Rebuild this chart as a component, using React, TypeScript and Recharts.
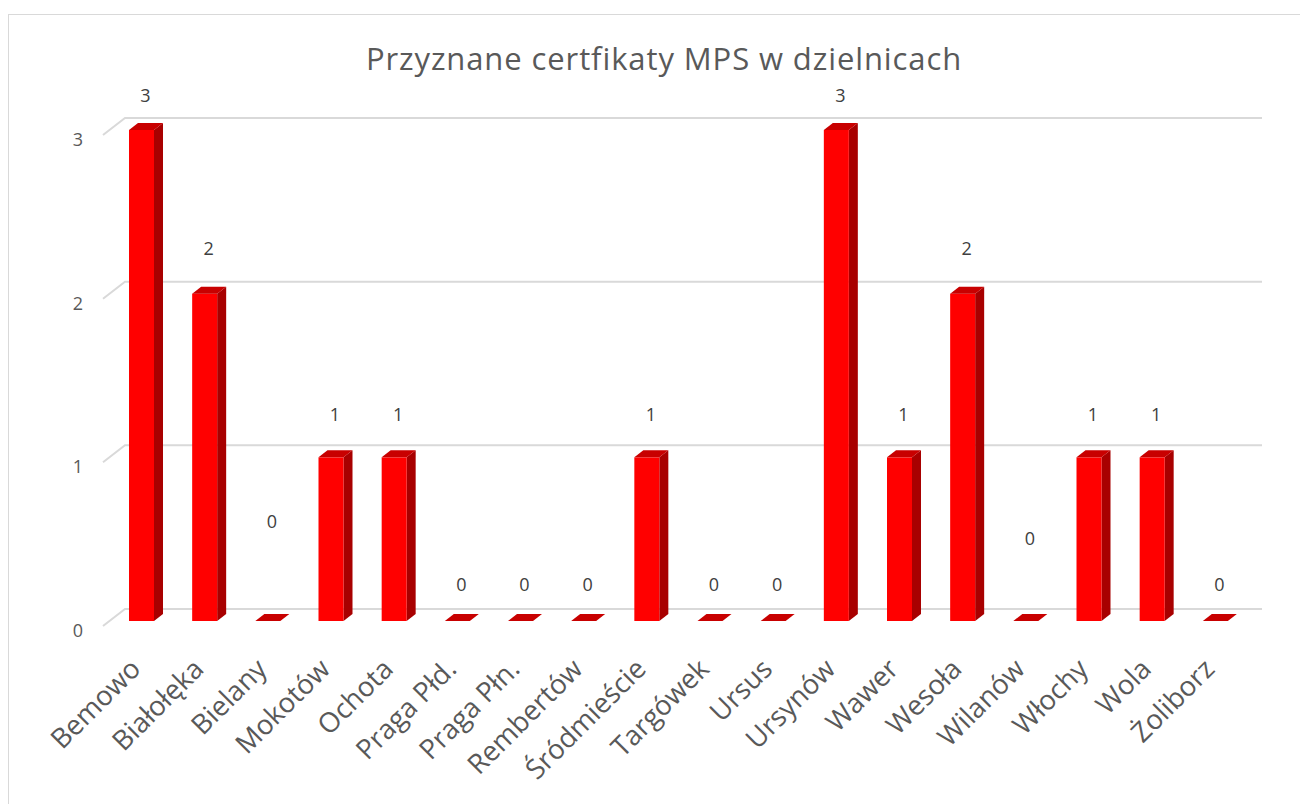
import React from "react";
import { BarChart, Bar, XAxis, YAxis, CartesianGrid, LabelList } from "recharts";

const districts = [
  "Bemowo", "Białołęka", "Bielany", "Mokotów", "Ochota", "Praga Płd.", "Praga Płn.",
  "Rembertów", "Śródmieście", "Targówek", "Ursus", "Ursynów", "Wawer", "Wesoła",
  "Wilanów", "Włochy", "Wola", "Żoliborz",
];
const certificates = [3, 2, 0, 1, 1, 0, 0, 0, 1, 0, 0, 3, 1, 2, 0, 1, 1, 0];
const yTicks = [0, 1, 2, 3];
const title = "Przyznane certfikaty MPS w dzielnicach";

const data = districts.map((name, i) => ({ name, value: certificates[i] }));

const DX = 9;
const DY = 7;
const TEXT = "#595959";
const FONT = '"Open Sans", "Noto Sans", sans-serif';

const Bar3D = (props: any) => {
  const { x, y, width, height } = props;
  const h = Math.max(0, height);
  const top = `${x},${y} ${x + DX},${y - DY} ${x + width + DX},${y - DY} ${x + width},${y}`;
  const side = `${x + width},${y} ${x + width + DX},${y - DY} ${x + width + DX},${y + h - DY} ${x + width},${y + h}`;
  return (
    <g>
      {h > 0 && <polygon points={side} fill="#A80000" />}
      {h > 0 && <rect x={x} y={y} width={width} height={h} fill="#FF0000" />}
      <polygon points={top} fill="#C80000" />
    </g>
  );
};

const gridLine = (props: any) => {
  const { x1, x2, y1, index } = props;
  const d = `M${x1 - 7},${y1 + 5} L${x1 + 15},${y1 - 12} L${x2 + 15},${y1 - 12}`;
  return <path key={`g-${index}`} d={d} fill="none" stroke="#D9D9D9" strokeWidth={2} />;
};

const XTick = (props: any) => {
  const { x, y, payload } = props;
  return (
    <g transform={`translate(${x - 5},${y + 36})`}>
      <text
        transform="rotate(-45)"
        textAnchor="end"
        fill={TEXT}
        fontSize={27.5}
        fontFamily={FONT}
        dy={8}
      >
        {payload.value}
      </text>
    </g>
  );
};

const YTick = (props: any) => {
  const { y, payload } = props;
  return (
    <text x={69} y={y + 9} textAnchor="middle" dominantBaseline="central" fill={TEXT} fontSize={18} fontFamily={FONT}>
      {payload.value}
    </text>
  );
};

// label distance above the bar front top, as placed in the reference
const liftByValue: Record<number, number> = { 0: 37.5, 1: 43, 2: 46, 3: 35 };
const extraLift: Record<number, number> = { 2: 63, 14: 46 };

const ValueLabel = (props: any) => {
  const { x, y, width, value, index } = props;
  const lift = (liftByValue[value] ?? 40) + (extraLift[index] || 0);
  return (
    <text
      x={x + width / 2 + 4}
      y={y - lift}
      textAnchor="middle"
      dominantBaseline="central"
      fill="#404040"
      fontSize={18}
      fontFamily={FONT}
    >
      {value}
    </text>
  );
};

export default function App() {
  return (
    <div
      style={{
        position: "relative",
        marginTop: 6,
        width: 1300,
        height: 790,
        borderTop: "1.5px solid #D9D9D9",
        borderLeft: "1.5px solid #D9D9D9",
        boxSizing: "border-box",
        overflow: "hidden",
      }}
    >
      <div
        style={{
          position: "absolute",
          top: 27,
          left: 0,
          width: 1310,
          textAlign: "center",
          fontFamily: FONT,
          fontSize: 31,
          letterSpacing: "0.9px",
          color: TEXT,
          lineHeight: "32px",
        }}
      >
        {title}
      </div>
      <BarChart
        width={1299}
        height={789}
        data={data}
        margin={{ top: 115, right: 61, left: 61, bottom: 33 }}
        barCategoryGap={0}
      >
        <CartesianGrid vertical={false} horizontal={gridLine} />
        <XAxis
          dataKey="name"
          interval={0}
          axisLine={false}
          tickLine={false}
          height={150}
          tick={<XTick />}
        />
        <YAxis
          width={40}
          domain={[0, 3]}
          ticks={yTicks}
          axisLine={false}
          tickLine={false}
          tick={<YTick />}
        />
        <Bar dataKey="value" barSize={25} shape={<Bar3D />} isAnimationActive={false}>
          <LabelList dataKey="value" content={<ValueLabel />} />
        </Bar>
      </BarChart>
    </div>
  );
}
